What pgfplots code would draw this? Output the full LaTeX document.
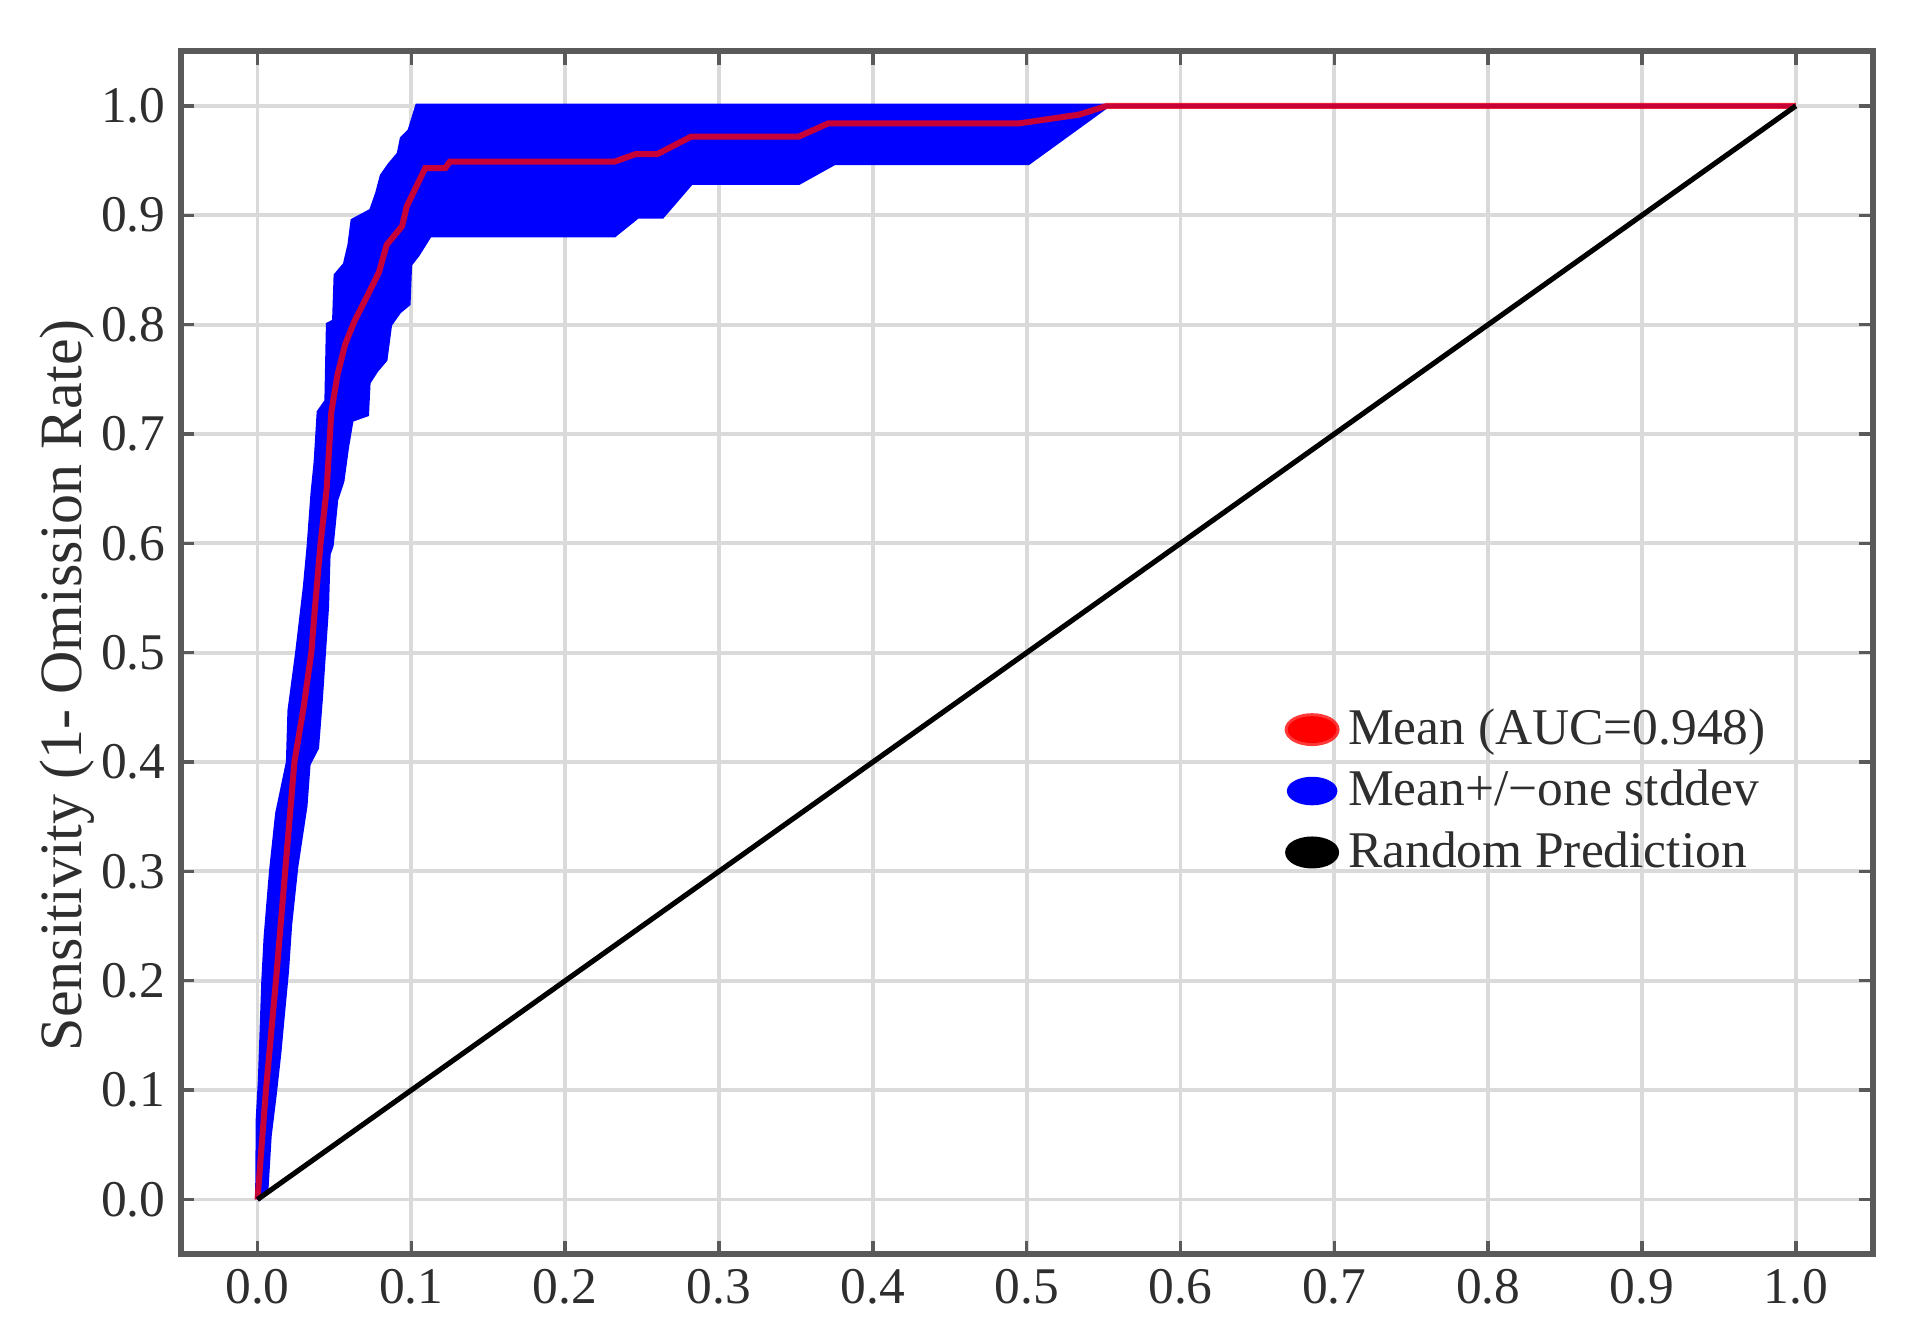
\documentclass[border=0pt]{standalone}
\usepackage{fontspec}
\setmainfont{Liberation Serif}
\usepackage{pgfplots}
\pgfplotsset{compat=1.18}
\definecolor{gridgray}{HTML}{DADADA}
\definecolor{framegray}{HTML}{5A5A5A}
\definecolor{txt}{HTML}{2E2E2E}

\begin{document}
\begin{tikzpicture}
\begin{axis}[
  name=ax,
  scale only axis,
  width=13.87cm, height=9.86cm,
  xmin=-0.05, xmax=1.05, ymin=-0.05, ymax=1.05,
  xtick={0,0.1,0.2,0.3,0.4,0.5,0.6,0.7,0.8,0.9,1.0},
  ytick={0,0.1,0.2,0.3,0.4,0.5,0.6,0.7,0.8,0.9,1.0},
  grid=major,
  grid style={gridgray, line width=0.9pt},
  axis line style={framegray, line width=1.4pt},
  tick align=inside,
  tick pos=both,
  major tick length=0.11cm,
  tick style={framegray, line width=0.8pt},
  /pgf/number format/fixed,
  /pgf/number format/fixed zerofill,
  /pgf/number format/precision=1,
  /pgf/number format/assume math mode=true,
  tick label style={font=\fontsize{12}{14}\selectfont, text=txt},
  ylabel={Sensitivity (1- Omission Rate)},
  ylabel style={font=\fontsize{14}{16}\selectfont, text=txt,
    at={(rel axis cs:-0.067,0.473)}, anchor=center},
  legend style={draw=none, fill=none, font=\fontsize{12}{14}\selectfont,
    text=txt, at={(rel axis cs:0.652,0.385)}, anchor=west,
    inner sep=0pt, row sep=0.5pt},
  legend cell align=left,
  legend image code/.code={\fill[#1] (0.22cm,0) ellipse [x radius=0.2cm, y radius=0.11cm];},
]
% band: upper edge out, lower edge back
\addplot[fill=blue, draw=blue, line width=1.1pt, forget plot] coordinates {
  (0,0) (0.0004,0.074) (0.0018,0.11) (0.004,0.2) (0.0055,0.24) (0.009,0.30)
  (0.013,0.353) (0.020,0.4) (0.021,0.447) (0.026,0.5) (0.031,0.56)
  (0.0335,0.598) (0.036,0.646) (0.038,0.674) (0.040,0.72) (0.045,0.73)
  (0.046,0.80) (0.050,0.803) (0.051,0.845) (0.057,0.855) (0.060,0.873)
  (0.062,0.895) (0.074,0.904) (0.078,0.92) (0.081,0.936) (0.086,0.946)
  (0.092,0.956) (0.094,0.970) (0.099,0.977) (0.104,1.0) (1.0,1.0)
  (0.552,1.0) (0.501,0.948) (0.375,0.948) (0.352,0.930) (0.282,0.930)
  (0.263,0.899) (0.247,0.899) (0.232,0.882) (0.112,0.882) (0.104,0.864)
  (0.099,0.855) (0.098,0.819) (0.092,0.812) (0.086,0.80) (0.083,0.768)
  (0.077,0.758) (0.072,0.747) (0.071,0.718) (0.061,0.713) (0.058,0.688)
  (0.055,0.657) (0.051,0.64) (0.048,0.598) (0.046,0.59) (0.045,0.542)
  (0.043,0.5) (0.041,0.458) (0.0385,0.413) (0.033,0.398) (0.031,0.36)
  (0.025,0.304) (0.021,0.251) (0.019,0.209) (0.0165,0.172) (0.014,0.134)
  (0.011,0.096) (0.0077,0.058) (0.0055,0.006) (0,0)
};
\addplot[red, draw opacity=0.78, line width=1.4pt] coordinates {
  (0,0) (0.0055,0.1) (0.012,0.2) (0.018,0.3) (0.024,0.4) (0.030,0.45)
  (0.035,0.5) (0.037,0.535) (0.041,0.6) (0.045,0.65) (0.048,0.72)
  (0.052,0.754) (0.057,0.782) (0.063,0.803) (0.072,0.828) (0.079,0.848)
  (0.084,0.873) (0.094,0.89) (0.097,0.908) (0.109,0.943) (0.122,0.943)
  (0.125,0.949) (0.232,0.949) (0.246,0.956) (0.260,0.956) (0.282,0.972)
  (0.352,0.972) (0.371,0.984) (0.495,0.984) (0.534,0.992) (0.552,1.0)
  (1.0,1.0)
};
\addlegendentry{Mean (AUC=0.948)}
\addlegendimage{blue}
\addlegendentry{Mean+/−one stddev}
\addplot[black, line width=1.2pt] coordinates {(0,0) (1,1)};
\addlegendentry{Random Prediction}
\end{axis}
\pgfresetboundingbox
\path (ax.south west) ++(-1.48cm,-0.61cm);
\path (ax.north east) ++(0.33cm,0.42cm);
\end{tikzpicture}
\end{document}
